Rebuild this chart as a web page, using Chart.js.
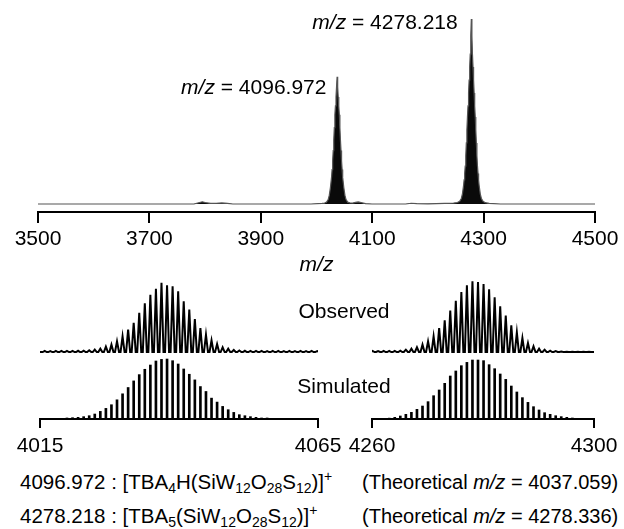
<!DOCTYPE html>
<html><head><meta charset="utf-8">
<script src="https://cdn.jsdelivr.net/npm/chart.js@4.4.0/dist/chart.umd.min.js"></script>
<style>
html,body{margin:0;padding:0;background:#fff;}
#wrap{position:relative;width:624px;height:529px;overflow:hidden;font-family:"Liberation Sans",Arial,sans-serif;color:#000;}
canvas{position:absolute;left:0;}
.lbl{position:absolute;font-size:21px;line-height:24px;white-space:nowrap;}
.txt{position:absolute;font-size:20.5px;line-height:24px;white-space:nowrap;}
.txt2{position:absolute;font-size:20px;line-height:24px;white-space:nowrap;}
sub{font-size:14px;vertical-align:-4px;line-height:0;}
sup{font-size:14px;vertical-align:8px;line-height:0;}
</style></head><body>
<div id="wrap">
<canvas id="top" width="624" height="282" style="top:0"></canvas>
<canvas id="obsL" width="624" height="90" style="top:270px"></canvas>
<canvas id="obsR" width="624" height="90" style="top:270px"></canvas>
<canvas id="simL" width="624" height="110" style="top:355px"></canvas>
<canvas id="simR" width="624" height="110" style="top:355px"></canvas>
<span class="lbl" id="ann1" style="top:75px"><i>m/z</i> = 4096.972</span>
<span class="lbl" id="ann2" style="top:10px"><i>m/z</i> = 4278.218</span>
<span class="lbl" style="left:344px;top:299px;transform:translateX(-50%)">Observed</span>
<span class="lbl" style="left:344px;top:374px;transform:translateX(-50%)">Simulated</span>
<span class="txt" style="left:20px;top:470px">4096.972 : [TBA<sub>4</sub>H(SiW<sub>12</sub>O<sub>28</sub>S<sub>12</sub>)]<sup>+</sup></span>
<span class="txt2" style="left:362px;top:470px">(Theoretical <i>m/z</i> = 4037.059)</span>
<span class="txt" style="left:20px;top:504px">4278.218 : [TBA<sub>5</sub>(SiW<sub>12</sub>O<sub>28</sub>S<sub>12</sub>)]<sup>+</sup></span>
<span class="txt2" style="left:362px;top:504px">(Theoretical <i>m/z</i> = 4278.336)</span>
</div>
<script>
// ---------- data ----------
const topTicks = [3500, 3700, 3900, 4100, 4300, 4500];
const topMz = [3500, 3780, 3790, 3795, 3800, 3810, 3820, 3830, 3840, 3850, 3990, 4010,
  4014, 4018, 4021, 4023, 4025, 4027, 4028, 4029, 4030, 4031, 4032, 4033, 4034, 4035, 4036,
  4037, 4038, 4039, 4040, 4041, 4042, 4043, 4044, 4045, 4046, 4047, 4049, 4051, 4053, 4056, 4060,
  4065, 4070, 4075, 4080, 4088, 4100, 4160, 4170, 4180, 4200, 4230, 4246, 4253,
  4257, 4260, 4262, 4264, 4265, 4266, 4267, 4268, 4269, 4270, 4271, 4272, 4273, 4274, 4275, 4276, 4277,
  4278, 4279, 4280, 4281, 4282, 4283, 4284, 4285, 4286, 4287, 4288, 4289, 4290, 4291, 4292, 4294, 4296, 4299, 4303, 4310,
  4330, 4500];
const topIntensity = [0, 0, 0.8, 1.2, 0.8, 0.3, 0.4, 0.6, 0.3, 0, 0, 0.3,
  0.4, 1.0, 2.4, 4.8, 8.9, 14.4, 18.6, 23.4, 28.9, 34.4, 41.3, 48.2, 53, 57.8, 63.3,
  68.8, 63.3, 57.8, 53, 48.2, 41.3, 34.4, 28.9, 23.4, 18.6, 14.4, 8.9, 4.8, 2.4, 1.0, 0.6,
  0.5, 0.9, 1.1, 0.8, 0.2, 0, 0, 0.4, 0.2, 0.1, 0.3, 0.5, 0.8,
  1.5, 3, 5.5, 10, 13, 16.5, 20.5, 26, 33, 40, 47, 53, 60, 67, 74, 81, 91,
  100, 91, 81, 74, 67, 60, 53, 47, 40, 33, 26, 20.5, 16.5, 13, 10, 5.5, 3, 1.5, 0.7, 0.3,
  0, 0];

const leftTicks = [4015, 4065];
const rightTicks = [4260, 4300];

const obsLeftStart = 4015.85;
const obsLeft = [1.5, 1.4, 1.6, 1.5, 1.5, 1.7, 1.8, 2.0, 2.5, 3.5,
  4.8, 7.7, 10.6, 15.4, 22.6, 32.2, 42.3, 56.7, 70.2, 82.7, 91.3, 100, 96.2, 94.7, 87.5,
  73.1, 61.1, 47.6, 34.6, 25, 16.8, 11.5, 6.7, 4.8, 2.9,
  2.2, 1.8, 1.6, 1.5, 1.5, 1.4, 1.5, 1.5, 1.4, 1.5, 1.4, 1.5, 1.4, 1.5, 1.4];

const simLeftStart = 4018.85;
const simLeft = [1.1, 1.7, 2.2, 2.8, 3.9, 5.5, 8.3, 12.7, 17.7, 23.8, 32, 42, 52.5, 63.5, 74, 82.9, 90, 96.7,
  99.4, 100, 97.2, 91.7, 83.4, 74.6, 65.2, 54.1, 45.9, 34.8, 28.2, 21, 15.5, 11, 7.2, 5.5, 3.9, 2.8, 1.7, 1.7, 1.1, 0.6];

const obsRightStart = 4260.1;
const obsRight = [1.5, 1.4, 1.6, 1.5, 1.7,
  1.9, 3.3, 4.7, 6.6, 10.4, 15.1, 22.2, 34, 44.8, 58.5, 72.6, 84.9, 94.3, 100, 99.1,
  96.2, 88.7, 77.4, 64.6, 51.4, 37.7, 27.8, 19.8, 12.7, 8, 4.7, 3.3, 1.9,
  1.2, 0.6, 0.3, 0.2, 0.2, 0.2, 0.2];

const simRightStart = 4263.1;
const simRight = [1.5, 2.8, 5.1, 7.9, 11.3, 16.4, 22, 29.4, 39.5, 49.2, 60.5, 72.9, 81.4, 90.4, 96,
  100, 100, 98.9, 92.1, 85.3, 76.3, 67.2, 55.9, 45.8, 36.2, 28.2, 20.9, 15.3, 10.7, 7.9, 5.6, 4, 2.8, 1.7];

// ---------- charts ----------
Chart.defaults.font.family = "'Liberation Sans', Arial, sans-serif";
Chart.defaults.color = '#000';

const noPlugins = {legend: {display: false}, tooltip: {enabled: false}};
const plainTick = v => String(v);

const annPlugin = {
  id: 'ann',
  afterRender(chart) {
    const xs = chart.scales.x;
    [['ann1', 4037, 11], ['ann2', 4278, 14]].forEach(([id, mz, gap]) => {
      const el = document.getElementById(id);
      const px = xs.getPixelForValue(mz);
      el.style.left = (px - gap - el.offsetWidth) + 'px';
    });
  }
};

new Chart(document.getElementById('top'), {
  type: 'line',
  data: {datasets: [{
    data: topMz.map((x, i) => ({x, y: topIntensity[i]})),
    borderColor: '#555', borderWidth: 1.2, pointRadius: 0, tension: 0,
    fill: 'origin', backgroundColor: '#0a0a0a'
  }]},
  options: {
    responsive: false, animation: false,
    layout: {padding: {left: 38, right: 29, top: 19, bottom: 0}},
    plugins: noPlugins,
    scales: {
      x: {
        type: 'linear', min: 3500, max: 4500,
        afterBuildTicks: s => { s.ticks = topTicks.map(v => ({value: v})); },
        afterFit: s => { s.height = 70; s.paddingLeft = 0; s.paddingRight = 0; },
        ticks: {font: {size: 21}, color: '#000', padding: 4, maxRotation: 0, autoSkip: false, callback: plainTick},
        grid: {drawOnChartArea: false, drawTicks: true, tickLength: 11, color: '#000', lineWidth: 2},
        border: {display: true, color: '#000', width: 2},
        title: {display: true, text: 'm/z', color: '#000', font: {size: 21, style: 'italic'}, padding: {top: 0, bottom: 4}}
      },
      y: {display: false, min: -4.32, max: 100}
    }
  },
  plugins: [annPlugin]
});

function profilePoints(start, heights, xmin, xmax) {
  const pts = [{x: xmin, y: 0}];
  heights.forEach((h, i) => {
    const x = start + i;
    pts.push({x: x - 0.36, y: 0}, {x, y: h}, {x: x + 0.36, y: 0});
  });
  pts.push({x: xmax, y: 0});
  return pts;
}

function obsChart(id, start, heights, xmin, xmax, ymin, ymax, padL, padR) {
  new Chart(document.getElementById(id), {
    type: 'line',
    data: {datasets: [{
      data: profilePoints(start, heights, xmin, xmax),
      borderColor: '#000', borderWidth: 2, pointRadius: 0, tension: 0, fill: false
    }]},
    options: {
      responsive: false, animation: false,
      layout: {padding: {left: padL, right: padR, top: 0, bottom: 0}},
      plugins: noPlugins,
      scales: {
        x: {type: 'linear', display: false, min: xmin, max: xmax},
        y: {display: false, min: ymin, max: ymax}
      }
    }
  });
}

function simChart(id, start, heights, tickVals, ymax, padL, padR) {
  new Chart(document.getElementById(id), {
    type: 'bar',
    data: {datasets: [{
      data: heights.map((h, i) => ({x: start + i, y: h})),
      backgroundColor: '#000', borderWidth: 0, barThickness: 2, grouped: false
    }]},
    options: {
      responsive: false, animation: false,
      layout: {padding: {left: padL, right: padR, top: 0, bottom: 0}},
      plugins: noPlugins,
      scales: {
        x: {
          type: 'linear', min: tickVals[0], max: tickVals[1], offset: false,
          afterBuildTicks: s => { s.ticks = tickVals.map(v => ({value: v})); },
          afterFit: s => { s.height = 46; s.paddingLeft = 0; s.paddingRight = 0; },
          ticks: {font: {size: 21}, color: '#000', padding: 6, maxRotation: 0, autoSkip: false, callback: plainTick},
          grid: {offset: false, drawOnChartArea: false, drawTicks: true, tickLength: 9, color: '#000', lineWidth: 2},
          border: {display: true, color: '#000', width: 2}
        },
        y: {display: false, min: 0, max: ymax}
      }
    }
  });
}

obsChart('obsL', obsLeftStart, obsLeft, leftTicks[0], leftTicks[1], -11.5, 118.3, 40, 306);
obsChart('obsR', obsRightStart, obsRight, rightTicks[0], rightTicks[1], -11.3, 116, 372, 30);
simChart('simL', simLeftStart, simLeft, leftTicks, 106.7, 40, 306);
simChart('simR', simRightStart, simRight, rightTicks, 108.5, 372, 30);
</script>
</body></html>
